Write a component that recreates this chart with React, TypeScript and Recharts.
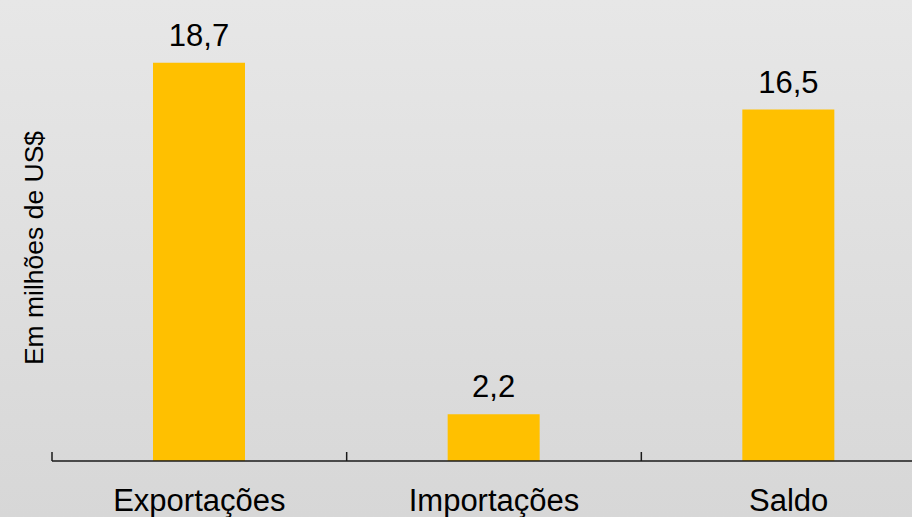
import { BarChart, Bar, XAxis, YAxis, LabelList } from "recharts";

const categories = ["Exportações", "Importações", "Saldo"];
const values = [18.7, 2.2, 16.5];
const valueLabels = ["18,7", "2,2", "16,5"];
const yLabel = "Em milhões de US$";

const data = categories.map((name, i) => ({ name, value: values[i], label: valueLabels[i] }));

const CHART_W = 960;
const CHART_H = 517;
const Y_W = 52;
const X_H = 30;
const MARGIN = { top: 35, right: 24, bottom: 26, left: 0 };
const PLOT_W = CHART_W - MARGIN.left - MARGIN.right - Y_W;
const BAND = PLOT_W / categories.length;
const FONT = "'Liberation Sans', Arial, sans-serif";

function CategoryTick(props: any) {
  const { x, y, payload } = props;
  const left = x - BAND / 2;
  return (
    <g>
      <line x1={left} x2={left} y1={y} y2={y - 9} stroke="#1a1a1a" strokeWidth={1.5} />
      <text x={x} y={y + 50} textAnchor="middle" fontSize={31} fontFamily={FONT} fill="#000">
        {payload.value}
      </text>
    </g>
  );
}

function YTitle(props: any) {
  const { viewBox } = props;
  const cx = viewBox.x + viewBox.width / 2 + 8;
  const cy = viewBox.y + viewBox.height / 2;
  return (
    <text
      x={cx}
      y={cy}
      transform={`rotate(-90, ${cx}, ${cy})`}
      textAnchor="middle"
      dominantBaseline="central"
      fontSize={26.5}
      fontFamily={FONT}
      fill="#000"
    >
      {yLabel}
    </text>
  );
}

export default function App() {
  return (
    <div
      style={{
        position: "absolute",
        left: 0,
        top: 0,
        width: 912,
        height: 517,
        overflow: "hidden",
        background: "linear-gradient(to bottom, #e7e7e7, #d7d7d7)",
      }}
    >
      <BarChart width={CHART_W} height={CHART_H} data={data} margin={MARGIN}>
        <XAxis
          dataKey="name"
          height={X_H}
          tickLine={false}
          tickSize={0}
          tickMargin={0}
          tick={<CategoryTick />}
          axisLine={{ stroke: "#1a1a1a", strokeWidth: 1.5 }}
          interval={0}
        />
        <YAxis
          width={Y_W}
          domain={[0, 20]}
          axisLine={false}
          tickLine={false}
          tick={false}
          label={<YTitle />}
        />
        <Bar dataKey="value" fill="#FFC000" barSize={92} isAnimationActive={false}>
          <LabelList
            dataKey="label"
            position="top"
            offset={17}
            fontSize={31}
            fontFamily={FONT}
            fill="#000"
          />
        </Bar>
      </BarChart>
    </div>
  );
}
